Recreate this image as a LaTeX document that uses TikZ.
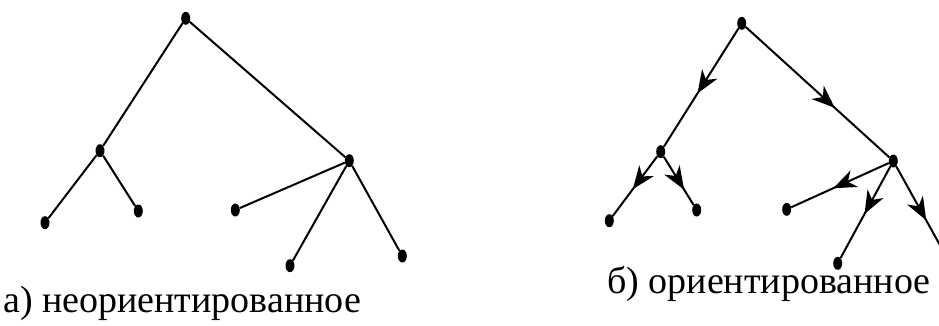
\documentclass[tikz,border=0pt]{standalone}
\usepackage{fontspec}
\setmainfont{Liberation Serif}
\usetikzlibrary{shapes.geometric,arrows.meta,decorations.markings}
\tikzset{
  dot/.style={ellipse, fill, inner sep=0pt, minimum width=9pt, minimum height=13pt},
  edge/.style={line width=2pt},
  marrow/.style={postaction={decorate}, decoration={markings,
    mark=at position #1 with {\arrow{Stealth[length=23pt,width=18pt,inset=7pt]}}}},
  caption/.style={anchor=base west, inner sep=0pt, font=\fontsize{38}{42}\selectfont}
}
\begin{document}
\begin{tikzpicture}[x=1pt,y=-1pt]
	  \useasboundingbox (0,0) rectangle (939,325);
	  % a) undirected tree
	  \node[dot] (r) at (185.7,18.3) {};
	  \node[dot] (a) at (100,150.7) {};
	  \node[dot] (b) at (349.3,160.7) {};
	  \node[dot] (a1) at (45,222.7) {};
	  \node[dot] (a2) at (138.3,211) {};
	  \node[dot] (b1) at (235.3,210) {};
	  \node[dot] (b2) at (290,265.7) {};
	  \node[dot] (b3) at (402.3,256) {};
	  
	  \draw[edge] (r) -- (a);
	  \draw[edge] (r) -- (b);
	  \draw[edge] (a) -- (a1);
	  \draw[edge] (a) -- (a2);
	  \draw[edge] (b) -- (b1);
	  \draw[edge] (b) -- (b2);
	  \draw[edge] (b) -- (b3);
	  
	  \node[caption] (ca) at (3,312) {а) неориентированное};
	  
	  % b) directed tree
	  \node[dot] (s) at (741.7,23.3) {};
	  \node[dot] (c) at (660.7,151.7) {};
	  \node[dot] (d) at (893.3,161) {};
	  \node[dot] (c1) at (609.3,220.7) {};
	  \node[dot] (c2) at (696.7,210) {};
	  \node[dot] (d1) at (786.7,209.3) {};
	  \node[dot] (d2) at (837.7,263.3) {};
	  \node[dot] (d3) at (946,256) {};
	  
	  \draw[edge, marrow=0.55] (s) -- (c);
	  \draw[edge, marrow=0.62] (s) -- (d);
	  \draw[edge, marrow=0.55] (c) -- (c1);
	  \draw[edge, marrow=0.68] (c) -- (c2);
	  \draw[edge, marrow=0.57] (d) -- (d1);
	  \draw[edge, marrow=0.52] (d) -- (d2);
	  \draw[edge, marrow=0.64] (d) -- (d3);
	  
	  \node[caption] (cb) at (607,293) {б) ориентированное};
	\end{tikzpicture}
\end{document}
